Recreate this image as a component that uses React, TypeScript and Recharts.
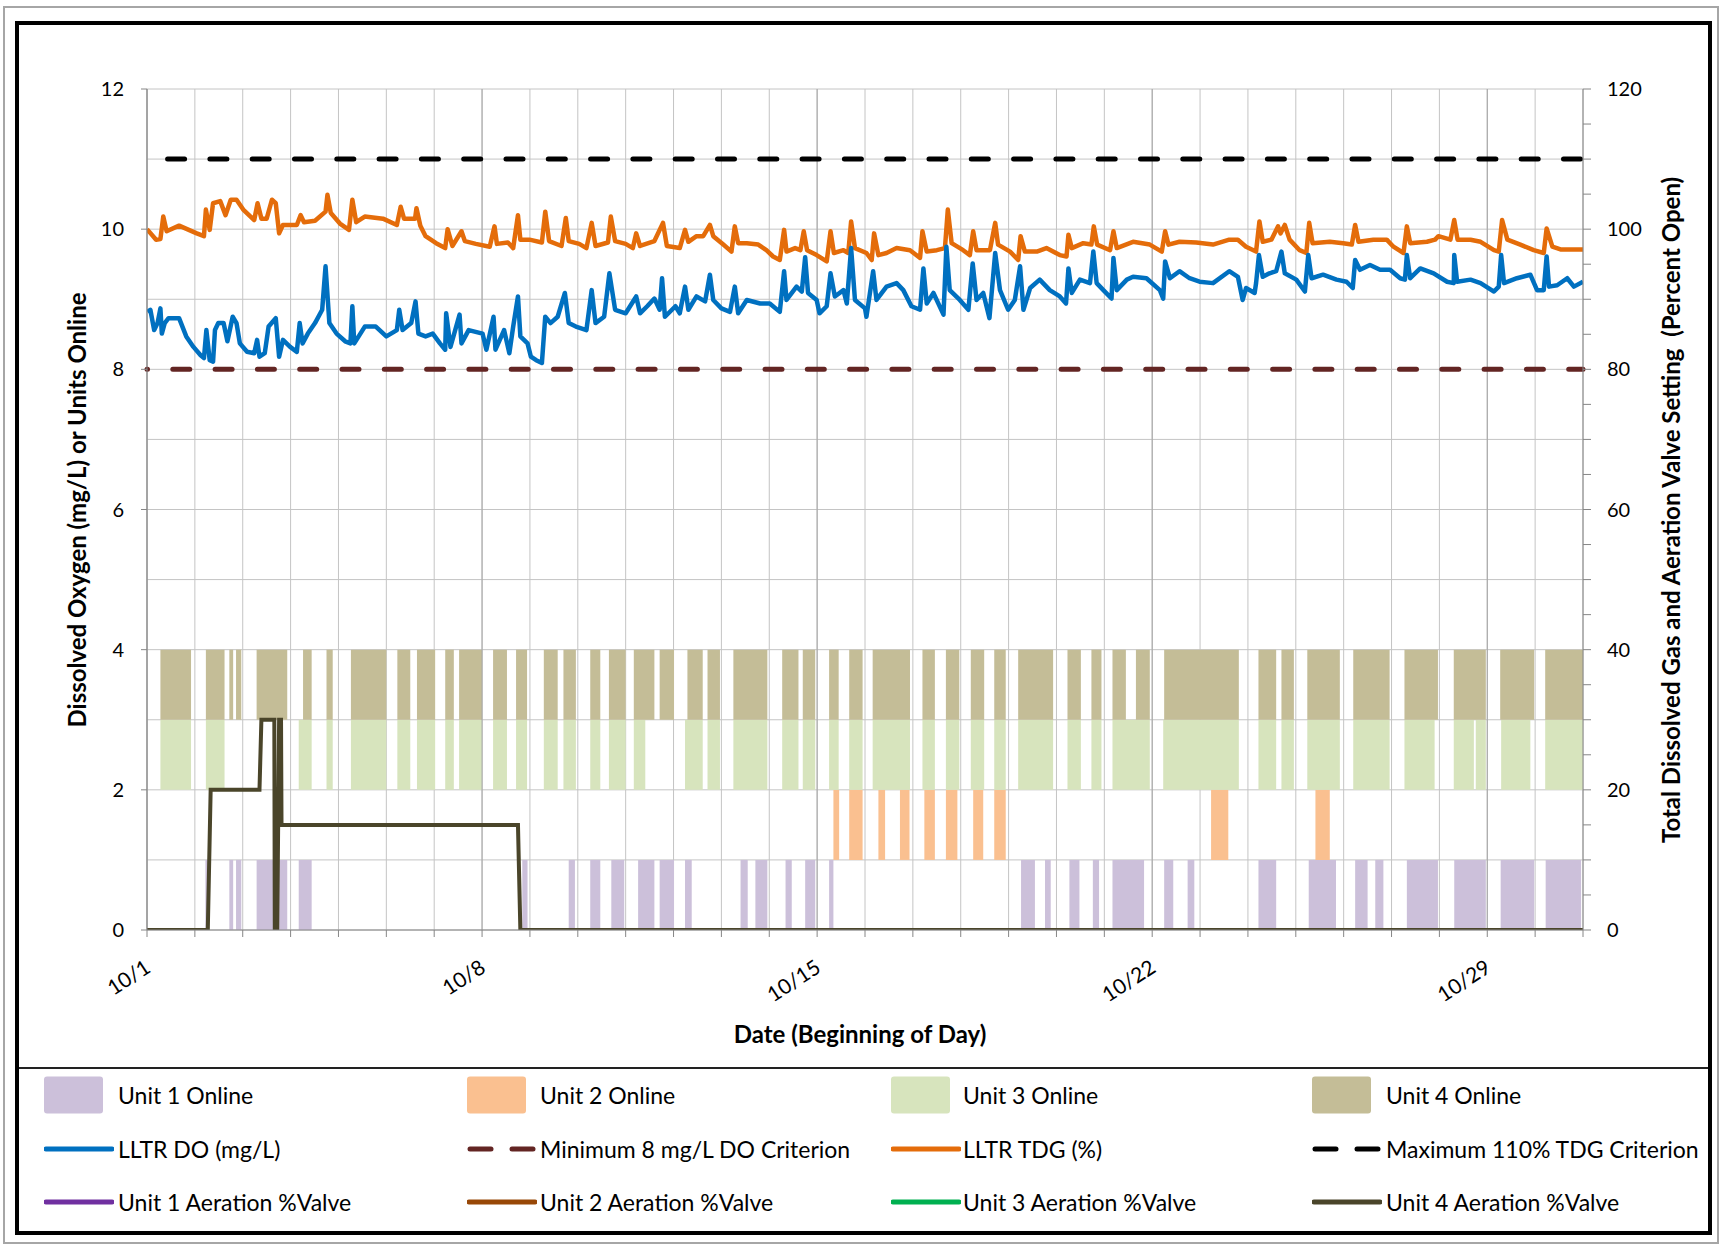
import React from 'react';
import {
  ComposedChart,
  Line,
  XAxis,
  YAxis,
  CartesianGrid,
  ReferenceArea,
  ReferenceLine,
} from 'recharts';

const FONT = 'Lato, "Noto Sans", sans-serif';

// x axis: days since 10/1
const dayTicks = [0, 1, 2, 3, 4, 5, 6, 7, 8, 9, 10, 11, 12, 13, 14, 15, 16, 17, 18, 19, 20, 21, 22, 23, 24, 25, 26, 27, 28, 29, 30];
const labelDays = [0, 7, 14, 21, 28];
const dateLabels = ['10/1', '10/8', '10/15', '10/22', '10/29'];
const leftTicks = [0, 1, 2, 3, 4, 5, 6, 7, 8, 9, 10, 11, 12];
const rightTicks = [0, 5, 10, 15, 20, 25, 30, 35, 40, 45, 50, 55, 60, 65, 70, 75, 80, 85, 90, 95, 100, 105, 110, 115, 120];

const doCriterion = 8; // mg/L
const tdgCriterion = 110; // %

// LLTR dissolved oxygen, [day, mg/L]
const doReadings: [number, number][] = [
  [0.01, 8.82], [0.07, 8.85], [0.15, 8.56], [0.22, 8.66], [0.28, 8.87], [0.31, 8.51], [0.37, 8.66], [0.45, 8.73],
  [0.67, 8.73], [0.82, 8.47], [0.97, 8.32], [1.12, 8.2], [1.19, 8.16], [1.24, 8.56], [1.31, 8.13], [1.38, 8.11],
  [1.42, 8.56], [1.49, 8.66], [1.6, 8.66], [1.68, 8.4], [1.79, 8.75], [1.87, 8.66], [1.94, 8.37], [2.09, 8.25],
  [2.24, 8.23], [2.3, 8.42], [2.35, 8.18], [2.46, 8.23], [2.54, 8.61], [2.69, 8.73], [2.76, 8.18], [2.84, 8.42],
  [2.99, 8.32], [3.13, 8.25], [3.19, 8.66], [3.25, 8.37], [3.36, 8.51], [3.51, 8.66], [3.66, 8.85], [3.73, 9.47],
  [3.81, 8.66], [3.96, 8.51], [4.14, 8.4], [4.25, 8.37], [4.29, 8.9], [4.33, 8.37], [4.55, 8.61], [4.78, 8.61],
  [5.0, 8.47], [5.22, 8.56], [5.27, 8.85], [5.34, 8.56], [5.52, 8.66], [5.61, 8.97], [5.67, 8.51], [5.82, 8.47],
  [5.97, 8.51], [6.12, 8.37], [6.23, 8.28], [6.25, 8.8], [6.34, 8.32], [6.53, 8.78], [6.57, 8.37], [6.72, 8.56],
  [7.01, 8.51], [7.09, 8.28], [7.24, 8.75], [7.28, 8.28], [7.46, 8.56], [7.57, 8.23], [7.65, 8.61], [7.75, 9.04],
  [7.8, 8.47], [7.95, 8.37], [8.02, 8.18], [8.13, 8.13], [8.25, 8.09], [8.32, 8.75], [8.43, 8.66], [8.58, 8.75],
  [8.73, 9.09], [8.81, 8.66], [8.96, 8.61], [9.18, 8.56], [9.29, 9.13], [9.37, 8.66], [9.55, 8.75], [9.66, 9.37],
  [9.78, 8.85], [10.0, 8.8], [10.22, 9.04], [10.3, 8.8], [10.45, 8.9], [10.6, 9.01], [10.71, 8.85], [10.76, 9.3],
  [10.82, 8.75], [11.04, 8.9], [11.13, 8.8], [11.24, 9.18], [11.31, 8.85], [11.48, 9.04], [11.66, 8.97], [11.76, 9.35],
  [11.83, 8.99], [12.0, 8.87], [12.18, 8.82], [12.28, 9.18], [12.35, 8.8], [12.53, 8.99], [12.81, 8.94], [13.01, 8.94],
  [13.22, 8.82], [13.31, 9.4], [13.36, 8.99], [13.57, 9.18], [13.68, 9.11], [13.75, 9.6], [13.81, 9.09], [13.99, 8.99],
  [14.05, 8.8], [14.2, 8.9], [14.28, 9.37], [14.37, 9.04], [14.55, 9.13], [14.62, 8.94], [14.71, 9.73], [14.79, 8.99],
  [15.0, 8.87], [15.03, 8.75], [15.17, 9.4], [15.24, 8.99], [15.45, 9.18], [15.66, 9.23], [15.8, 9.13], [15.97, 8.9],
  [16.15, 8.85], [16.22, 9.44], [16.29, 8.94], [16.43, 9.09], [16.64, 8.78], [16.7, 9.75], [16.77, 9.13], [16.98, 8.99],
  [17.16, 8.85], [17.25, 9.51], [17.33, 8.99], [17.47, 9.09], [17.6, 8.73], [17.72, 9.66], [17.82, 9.13], [17.99, 8.85],
  [18.13, 8.99], [18.24, 9.47], [18.31, 8.85], [18.45, 9.16], [18.65, 9.28], [18.86, 9.13], [19.07, 9.04], [19.2, 8.94],
  [19.25, 9.44], [19.32, 9.09], [19.49, 9.28], [19.7, 9.23], [19.77, 9.68], [19.84, 9.23], [19.98, 9.13], [20.15, 9.01],
  [20.19, 9.59], [20.26, 9.13], [20.47, 9.28], [20.6, 9.32], [20.88, 9.3], [21.16, 9.13], [21.23, 9.01], [21.27, 9.54],
  [21.37, 9.3], [21.57, 9.4], [21.78, 9.3], [21.99, 9.25], [22.27, 9.23], [22.61, 9.4], [22.79, 9.32], [22.86, 9.09],
  [22.89, 8.99], [22.96, 9.16], [23.14, 9.09], [23.17, 9.23], [23.23, 9.63], [23.31, 9.32], [23.45, 9.37], [23.59, 9.4],
  [23.7, 9.68], [23.77, 9.37], [24.01, 9.28], [24.19, 9.11], [24.26, 9.63], [24.33, 9.3], [24.57, 9.35], [24.85, 9.28],
  [25.06, 9.25], [25.19, 9.16], [25.24, 9.56], [25.34, 9.42], [25.55, 9.49], [25.76, 9.42], [25.97, 9.42], [26.18, 9.3],
  [26.28, 9.28], [26.32, 9.63], [26.39, 9.3], [26.6, 9.44], [26.88, 9.37], [27.16, 9.25], [27.3, 9.23], [27.31, 9.63],
  [27.37, 9.25], [27.65, 9.28], [27.86, 9.23], [28.14, 9.11], [28.24, 9.18], [28.29, 9.63], [28.35, 9.23], [28.62, 9.3],
  [28.9, 9.35], [29.04, 9.13], [29.18, 9.13], [29.24, 9.61], [29.29, 9.18], [29.46, 9.2], [29.67, 9.3], [29.81, 9.18],
  [30.0, 9.25],
];

// LLTR total dissolved gas, [day, %]
const tdgReadings: [number, number][] = [
  [0.0, 100.0], [0.19, 98.5], [0.28, 98.6], [0.34, 101.8], [0.41, 99.7], [0.67, 100.5], [1.04, 99.4], [1.19, 99.0],
  [1.23, 102.8], [1.31, 99.9], [1.38, 103.7], [1.53, 104.0], [1.64, 102.0], [1.75, 104.2], [1.87, 104.2], [2.01, 102.8],
  [2.24, 101.3], [2.31, 103.7], [2.39, 101.5], [2.5, 101.5], [2.61, 104.2], [2.69, 103.7], [2.76, 99.4], [2.84, 100.6],
  [3.13, 100.6], [3.21, 102.0], [3.28, 101.0], [3.51, 101.2], [3.73, 102.5], [3.77, 104.9], [3.84, 102.3], [4.03, 100.8],
  [4.22, 99.9], [4.29, 104.2], [4.37, 101.0], [4.55, 101.8], [4.93, 101.5], [5.22, 100.6], [5.3, 103.2], [5.37, 101.5],
  [5.6, 101.5], [5.63, 103.0], [5.71, 100.5], [5.82, 99.0], [6.04, 98.0], [6.23, 97.3], [6.28, 100.0], [6.38, 97.6],
  [6.57, 99.7], [6.64, 98.3], [6.87, 97.9], [7.16, 97.5], [7.26, 100.4], [7.31, 97.9], [7.54, 98.1], [7.65, 97.3],
  [7.75, 102.0], [7.8, 98.5], [7.99, 98.5], [8.25, 98.1], [8.32, 102.5], [8.4, 98.3], [8.66, 97.6], [8.75, 101.6],
  [8.81, 98.3], [9.03, 97.9], [9.18, 97.3], [9.29, 100.9], [9.37, 97.6], [9.63, 98.1], [9.69, 101.8], [9.78, 98.3],
  [10.0, 97.9], [10.15, 97.3], [10.22, 99.4], [10.3, 97.6], [10.6, 98.3], [10.78, 100.9], [10.86, 97.6], [11.13, 97.3],
  [11.24, 99.9], [11.31, 98.2], [11.48, 99.0], [11.62, 99.0], [11.76, 100.6], [11.83, 99.0], [12.04, 97.8], [12.21, 96.8],
  [12.28, 100.4], [12.35, 98.0], [12.53, 98.0], [12.77, 97.8], [12.94, 97.0], [13.08, 96.1], [13.22, 95.6], [13.31, 99.9],
  [13.36, 96.8], [13.54, 97.3], [13.65, 97.0], [13.72, 99.7], [13.79, 97.0], [13.99, 96.3], [14.2, 95.4], [14.28, 99.7],
  [14.35, 96.6], [14.55, 97.0], [14.65, 96.6], [14.71, 101.1], [14.79, 97.3], [15.03, 96.6], [15.14, 95.6], [15.19, 99.4],
  [15.28, 96.3], [15.45, 96.6], [15.66, 97.3], [15.94, 97.0], [16.15, 95.9], [16.2, 99.7], [16.29, 96.8], [16.5, 97.0],
  [16.67, 97.3], [16.73, 102.8], [16.81, 98.0], [17.05, 97.0], [17.19, 96.3], [17.26, 99.7], [17.33, 97.0], [17.61, 97.0],
  [17.72, 100.9], [17.78, 97.8], [18.03, 96.8], [18.2, 95.6], [18.25, 99.0], [18.34, 96.8], [18.59, 96.8], [18.79, 97.3],
  [19.07, 96.3], [19.21, 96.1], [19.25, 99.2], [19.32, 97.3], [19.56, 98.0], [19.73, 97.8], [19.78, 100.4], [19.85, 97.8],
  [20.12, 97.0], [20.19, 99.7], [20.26, 97.3], [20.6, 98.2], [20.95, 97.8], [21.2, 96.8], [21.27, 99.7], [21.34, 97.8],
  [21.57, 98.2], [21.92, 98.1], [22.27, 97.8], [22.61, 98.5], [22.79, 98.5], [22.96, 97.5], [23.17, 96.8], [23.24, 101.1],
  [23.31, 98.2], [23.49, 98.5], [23.63, 100.4], [23.68, 99.4], [23.77, 100.6], [23.87, 98.5], [24.08, 97.0], [24.22, 96.6],
  [24.28, 100.9], [24.35, 98.0], [24.71, 98.2], [24.99, 98.0], [25.17, 97.8], [25.24, 100.6], [25.31, 98.2], [25.62, 98.5],
  [25.9, 98.5], [26.04, 97.5], [26.25, 96.6], [26.32, 100.4], [26.39, 98.0], [26.74, 98.2], [26.91, 98.5], [26.98, 99.0],
  [27.23, 98.5], [27.31, 101.3], [27.38, 98.5], [27.65, 98.5], [27.86, 98.2], [28.14, 97.0], [28.24, 96.8], [28.31, 101.3],
  [28.42, 98.5], [28.69, 97.8], [28.97, 97.0], [29.18, 96.6], [29.24, 100.1], [29.36, 97.5], [29.53, 97.1], [30.0, 97.1],
];

// Unit 4 aeration valve setting, [day, % open]; units 1-3 show no trace in the plot
const unit4Valve: [number, number][] = [
  [0, 0], [1.27, 0], [1.33, 20], [2.35, 20], [2.39, 30], [2.66, 30], [2.67, 0], [2.72, 0],
  [2.76, 30], [2.8, 30], [2.81, 15], [7.75, 15], [7.8, 0], [30, 0],
];

// units online, [start day, end day]
const unit1On: [number, number][] = [
  [1.22, 1.27], [1.72, 1.8], [1.86, 1.97], [2.29, 2.93], [3.17, 3.44], [7.84, 7.95], [8.81, 8.94], [9.26, 9.47],
  [9.7, 9.97], [10.26, 10.6], [10.71, 11.01], [11.24, 11.38], [12.4, 12.55], [12.71, 12.96], [13.34, 13.47],
  [13.75, 13.96], [14.25, 14.34], [18.26, 18.55], [18.76, 18.88], [19.27, 19.48], [19.76, 19.89], [20.17, 20.83],
  [21.25, 21.44], [21.74, 21.88], [23.22, 23.59], [24.27, 24.84], [25.24, 25.5], [25.66, 25.83], [26.32, 26.97],
  [27.31, 27.97], [28.28, 28.98], [29.22, 29.96],
];
const unit2On: [number, number][] = [
  [14.34, 14.46], [14.67, 14.95], [15.28, 15.42], [15.73, 15.93], [16.24, 16.46], [16.69, 16.93], [17.26, 17.47],
  [17.7, 17.94], [22.23, 22.59], [24.41, 24.71],
];
const unit3On: [number, number][] = [
  [0.28, 0.92], [1.23, 1.62], [3.17, 3.44], [3.75, 3.88], [4.26, 5.0], [5.23, 5.5], [5.64, 6.02], [6.23, 6.41],
  [6.52, 7.0], [7.23, 7.52], [7.71, 7.94], [8.29, 8.58], [8.7, 8.96], [9.26, 9.47], [9.65, 10.0], [10.17, 10.41],
  [11.24, 11.61], [11.71, 11.97], [12.25, 12.96], [13.27, 13.61], [13.7, 13.96], [14.25, 14.45], [14.67, 14.95],
  [15.16, 15.94], [16.2, 16.46], [16.69, 16.97], [17.21, 17.49], [17.7, 17.94], [18.2, 18.93], [19.23, 19.51],
  [19.73, 19.94], [20.17, 20.95], [21.23, 22.81], [23.22, 23.59], [23.7, 23.96], [24.24, 24.92], [25.2, 25.96],
  [26.27, 26.9], [27.3, 27.72], [27.76, 27.97], [28.29, 28.9], [29.21, 30.0],
];
const unit4On: [number, number][] = [
  [0.28, 0.92], [1.23, 1.62], [1.72, 1.8], [1.86, 1.97], [2.29, 2.93], [3.26, 3.44], [3.75, 3.88], [4.26, 5.0],
  [5.23, 5.5], [5.64, 6.02], [6.23, 6.41], [6.52, 7.0], [7.23, 7.52], [7.71, 7.94], [8.29, 8.58], [8.7, 8.96],
  [9.26, 9.47], [9.65, 10.0], [10.17, 10.6], [10.71, 11.01], [11.29, 11.61], [11.71, 11.97], [12.25, 12.96],
  [13.27, 13.61], [13.7, 13.96], [14.25, 14.45], [14.67, 14.95], [15.16, 15.94], [16.2, 16.46], [16.69, 16.97],
  [17.21, 17.49], [17.7, 17.94], [18.2, 18.93], [19.23, 19.51], [19.73, 19.94], [20.17, 20.45], [20.66, 20.95],
  [21.25, 22.81], [23.22, 23.59], [23.7, 23.96], [24.24, 24.92], [25.2, 25.96], [26.27, 26.97], [27.3, 27.97],
  [28.27, 28.98], [29.21, 30.0],
];

const unitOnline = [unit1On, unit2On, unit3On, unit4On];
const unitColors = ['#CCC0DA', '#FAC090', '#D7E4BD', '#C4BD97'];
const valveColors = ['#7030A0', '#984807', '#00B050', '#4A452A'];

const toRows = (pts: [number, number][]) => pts.map(([d, v]) => ({ d, v }));

const DateTick = ({ x, y, payload }: any) => {
  const i = labelDays.indexOf(payload.value);
  if (i < 0) return <g />;
  const px = x + 5;
  const py = y + 34;
  return (
    <text x={px} y={py} transform={`rotate(-33 ${px} ${py})`} textAnchor="end" fontSize={21} fontFamily={FONT} fill="#000">
      {dateLabels[i]}
    </text>
  );
};

const LeftTick = ({ x, y, payload }: any) => {
  if (payload.value % 2 !== 0) return <g />;
  return (
    <g>
      <line x1={x + 17} x2={x + 23} y1={y} y2={y} stroke="#868686" />
      <text x={x} y={y} dy={7} textAnchor="end" fontSize={20} fontFamily={FONT} fill="#000">
        {payload.value}
      </text>
    </g>
  );
};

const RightTick = ({ x, y, payload }: any) => {
  if (payload.value % 20 !== 0) return <g />;
  return (
    <text x={x} y={y} dy={7} textAnchor="start" fontSize={20} fontFamily={FONT} fill="#000">
      {payload.value}
    </text>
  );
};

const legendCols = [44, 467, 891, 1312];
const legendText = [118, 540, 963, 1386];
const legendRowsY = [1095, 1149, 1202];

const Swatch = ({ kind, color }: { kind: string; color: string }) => {
  if (kind === 'box') {
    return <div style={{ width: 59, height: 37, background: color, borderRadius: 3 }} />;
  }
  return (
    <svg width={70} height={10} style={{ display: 'block' }}>
      {kind === 'dash' ? (
        <g stroke={color} strokeWidth={5} strokeLinecap="round">
          <line x1={3} x2={24} y1={5} y2={5} />
          <line x1={45} x2={66} y1={5} y2={5} />
        </g>
      ) : (
        <line x1={2} x2={68} y1={5} y2={5} stroke={color} strokeWidth={5} strokeLinecap="round" />
      )}
    </svg>
  );
};

const legendItems = [
  [
    { label: 'Unit 1 Online', kind: 'box', color: unitColors[0] },
    { label: 'Unit 2 Online', kind: 'box', color: unitColors[1] },
    { label: 'Unit 3 Online', kind: 'box', color: unitColors[2] },
    { label: 'Unit 4 Online', kind: 'box', color: unitColors[3] },
  ],
  [
    { label: 'LLTR DO (mg/L)', kind: 'line', color: '#0070C0' },
    { label: 'Minimum 8 mg/L DO Criterion', kind: 'dash', color: '#632523' },
    { label: 'LLTR TDG (%)', kind: 'line', color: '#E46C0A' },
    { label: 'Maximum 110% TDG Criterion', kind: 'dash', color: '#000000' },
  ],
  [
    { label: 'Unit 1 Aeration %Valve', kind: 'line', color: valveColors[0] },
    { label: 'Unit 2 Aeration %Valve', kind: 'line', color: valveColors[1] },
    { label: 'Unit 3 Aeration %Valve', kind: 'line', color: valveColors[2] },
    { label: 'Unit 4 Aeration %Valve', kind: 'line', color: valveColors[3] },
  ],
];

const titleStyle: React.CSSProperties = {
  position: 'absolute',
  whiteSpace: 'pre',
  fontWeight: 700,
  fontSize: 24,
  lineHeight: 1,
};

export default function App() {
  return (
    <div style={{ position: 'absolute', left: 0, top: 0, width: 1722, height: 1247, background: '#fff', fontFamily: FONT, color: '#000' }}>
      <div style={{ position: 'absolute', left: 3, top: 6, width: 1716, height: 1238, border: '2px solid #A6A6A6', boxSizing: 'border-box' }} />
      <div style={{ position: 'absolute', left: 15, top: 21, width: 1697, height: 1214, border: '4px solid #000', boxSizing: 'border-box' }} />
      <div style={{ position: 'absolute', left: 19, top: 1067, width: 1689, height: 2, background: '#222' }} />

      <div style={{ position: 'absolute', left: 0, top: 0 }}>
        <ComposedChart width={1722} height={1060} margin={{ top: 89, right: 79, bottom: 70, left: 87 }}>
          <CartesianGrid yAxisId="left" stroke="#C4C4C4" />
          {unitOnline.map((list, k) =>
            list.map(([s, e], j) => (
              <ReferenceArea
                key={`u${k}-${j}`}
                x1={s}
                x2={e}
                y1={k}
                y2={k + 1}
                yAxisId="left"
                fill={unitColors[k]}
                fillOpacity={1}
                stroke="none"
              />
            ))
          )}
          {labelDays.map((d) => (
            <ReferenceLine key={`wk${d}`} x={d} yAxisId="left" stroke="#A6A6A6" strokeWidth={1} />
          ))}
          <XAxis
            type="number"
            dataKey="d"
            domain={[0, 30]}
            allowDataOverflow
            ticks={dayTicks}
            interval={0}
            height={60}
            tickSize={7}
            tickMargin={0}
            stroke="#868686"
            tick={<DateTick />}
          />
          <YAxis
            yAxisId="left"
            domain={[0, 12]}
            allowDataOverflow
            ticks={leftTicks}
            interval={0}
            width={60}
            tickLine={false}
            tickSize={6}
            tickMargin={17}
            stroke="#868686"
            tick={<LeftTick />}
          />
          <YAxis
            yAxisId="right"
            orientation="right"
            domain={[0, 120]}
            allowDataOverflow
            ticks={rightTicks}
            interval={0}
            width={60}
            tickSize={8}
            tickMargin={16}
            stroke="#868686"
            tick={<RightTick />}
          />
          <ReferenceLine
            y={doCriterion}
            yAxisId="left"
            stroke="#632523"
            strokeWidth={5}
            strokeDasharray="17 25.3"
            strokeDashoffset={16.5}
            strokeLinecap="round"
          />
          <ReferenceLine
            y={tdgCriterion}
            yAxisId="right"
            stroke="#000"
            strokeWidth={5}
            strokeDasharray="17 25.3"
            strokeDashoffset={39.8}
            strokeLinecap="round"
          />
          <Line data={toRows(tdgReadings)} dataKey="v" yAxisId="right" type="linear" stroke="#E46C0A" strokeWidth={4.5} strokeLinejoin="round" dot={false} isAnimationActive={false} />
          <Line data={toRows(doReadings)} dataKey="v" yAxisId="left" type="linear" stroke="#0070C0" strokeWidth={4.5} strokeLinejoin="round" dot={false} isAnimationActive={false} />
          <Line data={toRows(unit4Valve)} dataKey="v" yAxisId="right" type="linear" stroke={valveColors[3]} strokeWidth={4} dot={false} isAnimationActive={false} />
        </ComposedChart>
      </div>

      <div style={{ ...titleStyle, left: 77, top: 510, transform: 'translate(-50%, -50%) rotate(-90deg)' }}>
        Dissolved Oxygen (mg/L) or Units Online
      </div>
      <div style={{ ...titleStyle, left: 1671, top: 510, transform: 'translate(-50%, -50%) rotate(-90deg)' }}>
        {'Total Dissolved Gas and Aeration Valve Setting  (Percent Open)'}
      </div>
      <div style={{ ...titleStyle, left: 860, top: 1034, transform: 'translate(-50%, -50%)' }}>
        Date (Beginning of Day)
      </div>

      {legendItems.map((row, r) =>
        row.map((item, c) => (
          <React.Fragment key={`lg${r}-${c}`}>
            <div style={{ position: 'absolute', left: legendCols[c], top: legendRowsY[r], transform: 'translateY(-50%)' }}>
              <Swatch kind={item.kind} color={item.color} />
            </div>
            <div style={{ position: 'absolute', left: legendText[c], top: legendRowsY[r], transform: 'translateY(-50%)', fontSize: 23, lineHeight: 1, whiteSpace: 'nowrap' }}>
              {item.label}
            </div>
          </React.Fragment>
        ))
      )}
    </div>
  );
}
